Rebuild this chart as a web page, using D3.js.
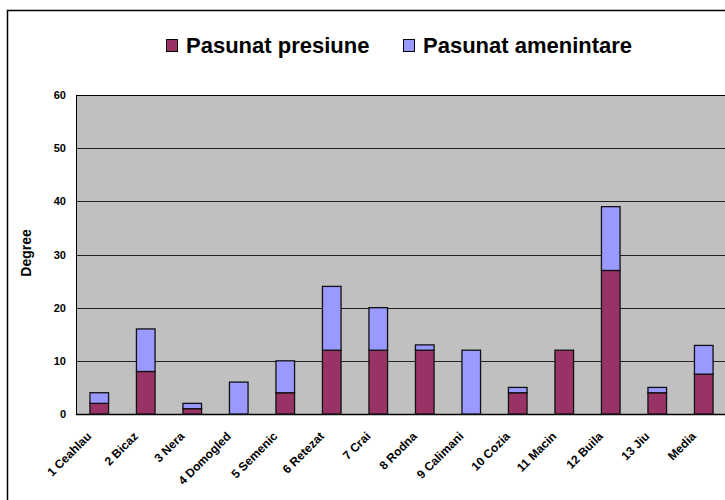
<!DOCTYPE html>
<html>
<head>
<meta charset="utf-8">
<script src="https://cdn.jsdelivr.net/npm/d3@7"></script>
<style>
  body { margin: 0; background: #fff; }
  text { font-family: "Liberation Sans", Arial, sans-serif; font-weight: bold; }
</style>
</head>
<body>
<svg id="chart" width="725" height="500"></svg>
<script>
// categories and series
var categories = ["1 Ceahlau", "2 Bicaz", "3 Nera", "4 Domogled", "5 Semenic", "6 Retezat", "7 Crai",
                  "8 Rodna", "9 Calimani", "10 Cozia", "11 Macin", "12 Buila", "13 Jiu", "Media"];
var presiune    = [2, 8, 1, 0, 4, 12, 12, 12, 0, 4, 12, 27, 4, 7.5];
var amenintare  = [2, 8, 1, 6, 6, 12, 8, 1, 12, 1, 0, 12, 1, 5.4];
var seriesNames = ["Pasunat presiune", "Pasunat amenintare"];
var colors = ["#993366", "#9999ff"];
var yTicks = [0, 10, 20, 30, 40, 50, 60];

var svg = d3.select("#chart");

var plotLeft = 76, plotRight = 727, plotTop = 95, plotBottom = 414;

// outer chart border
svg.append("rect")
    .attr("x", 7.5).attr("y", 10.5)
    .attr("width", 760).attr("height", 520)
    .attr("fill", "#fff")
    .attr("stroke", "#000").attr("stroke-width", 1.5);

var x = d3.scaleBand().domain(categories).range([plotLeft, plotRight]).paddingInner(0.6).paddingOuter(0.3);
var y = d3.scaleLinear().domain([0, 60]).range([plotBottom, plotTop]);

// plot background
svg.append("rect")
    .attr("x", plotLeft + 0.5).attr("y", plotTop + 0.5)
    .attr("width", plotRight - plotLeft).attr("height", plotBottom - plotTop)
    .attr("fill", "#c0c0c0")
    .attr("stroke", "#000").attr("stroke-width", 1);

// grid lines
svg.append("g").selectAll("line")
    .data(yTicks.slice(1, -1))
    .enter().append("line")
    .attr("x1", plotLeft).attr("x2", plotRight)
    .attr("y1", function(d) { return Math.round(y(d)) + 0.5; })
    .attr("y2", function(d) { return Math.round(y(d)) + 0.5; })
    .attr("stroke", "#222").attr("stroke-width", 1);

// y axis
var yAxis = svg.append("g")
    .attr("transform", "translate(" + plotLeft + ",0)")
    .call(d3.axisLeft(y).tickValues(yTicks).tickSize(0).tickPadding(10));
yAxis.select(".domain").remove();
yAxis.selectAll("text")
    .attr("font-size", 11)
    .attr("font-family", "Liberation Sans, Arial, sans-serif")
    .attr("font-weight", "bold")
    .attr("fill", "#000");

// x axis line
svg.append("line")
    .attr("x1", plotLeft).attr("x2", plotRight)
    .attr("y1", plotBottom + 0.5).attr("y2", plotBottom + 0.5)
    .attr("stroke", "#000").attr("stroke-width", 1.5);

// stacked bars
var rows = categories.map(function(c, i) { return {cat: c, p: presiune[i], a: amenintare[i]}; });
var stack = d3.stack().keys(["p", "a"])(rows);

svg.append("g").selectAll("g")
    .data(stack)
    .enter().append("g")
    .attr("fill", function(d, i) { return colors[i]; })
    .selectAll("rect")
    .data(function(d) { return d.filter(function(v) { return v[1] > v[0]; }); })
    .enter().append("rect")
    .attr("x", function(d) { return x(d.data.cat); })
    .attr("width", x.bandwidth())
    .attr("y", function(d) { return y(d[1]); })
    .attr("height", function(d) { return y(d[0]) - y(d[1]); })
    .attr("stroke", "#111").attr("stroke-width", 1.3);

// x labels
svg.append("g").selectAll("text")
    .data(categories)
    .enter().append("text")
    .attr("transform", function(d) {
        return "translate(" + (x(d) + x.bandwidth() / 2 - 7) + "," + (plotBottom + 23) + ") rotate(-45)";
    })
    .attr("text-anchor", "end")
    .attr("font-size", 12)
    .text(function(d) { return d; });

// y title
svg.append("text")
    .attr("transform", "translate(31,253) rotate(-90)")
    .attr("text-anchor", "middle")
    .attr("font-size", 14)
    .text("Degree");

// legend
var legendX = [166, 403];
var legend = svg.append("g").selectAll("g")
    .data(seriesNames)
    .enter().append("g")
    .attr("transform", function(d, i) { return "translate(" + legendX[i] + ",39)"; });

legend.append("rect")
    .attr("x", 0.5).attr("y", 0.5)
    .attr("width", 11).attr("height", 12)
    .attr("fill", function(d, i) { return colors[i]; })
    .attr("stroke", "#000").attr("stroke-width", 1);

legend.append("text")
    .attr("x", 20).attr("y", 14)
    .attr("font-size", 22)
    .text(function(d) { return d; });
</script>
</body>
</html>
